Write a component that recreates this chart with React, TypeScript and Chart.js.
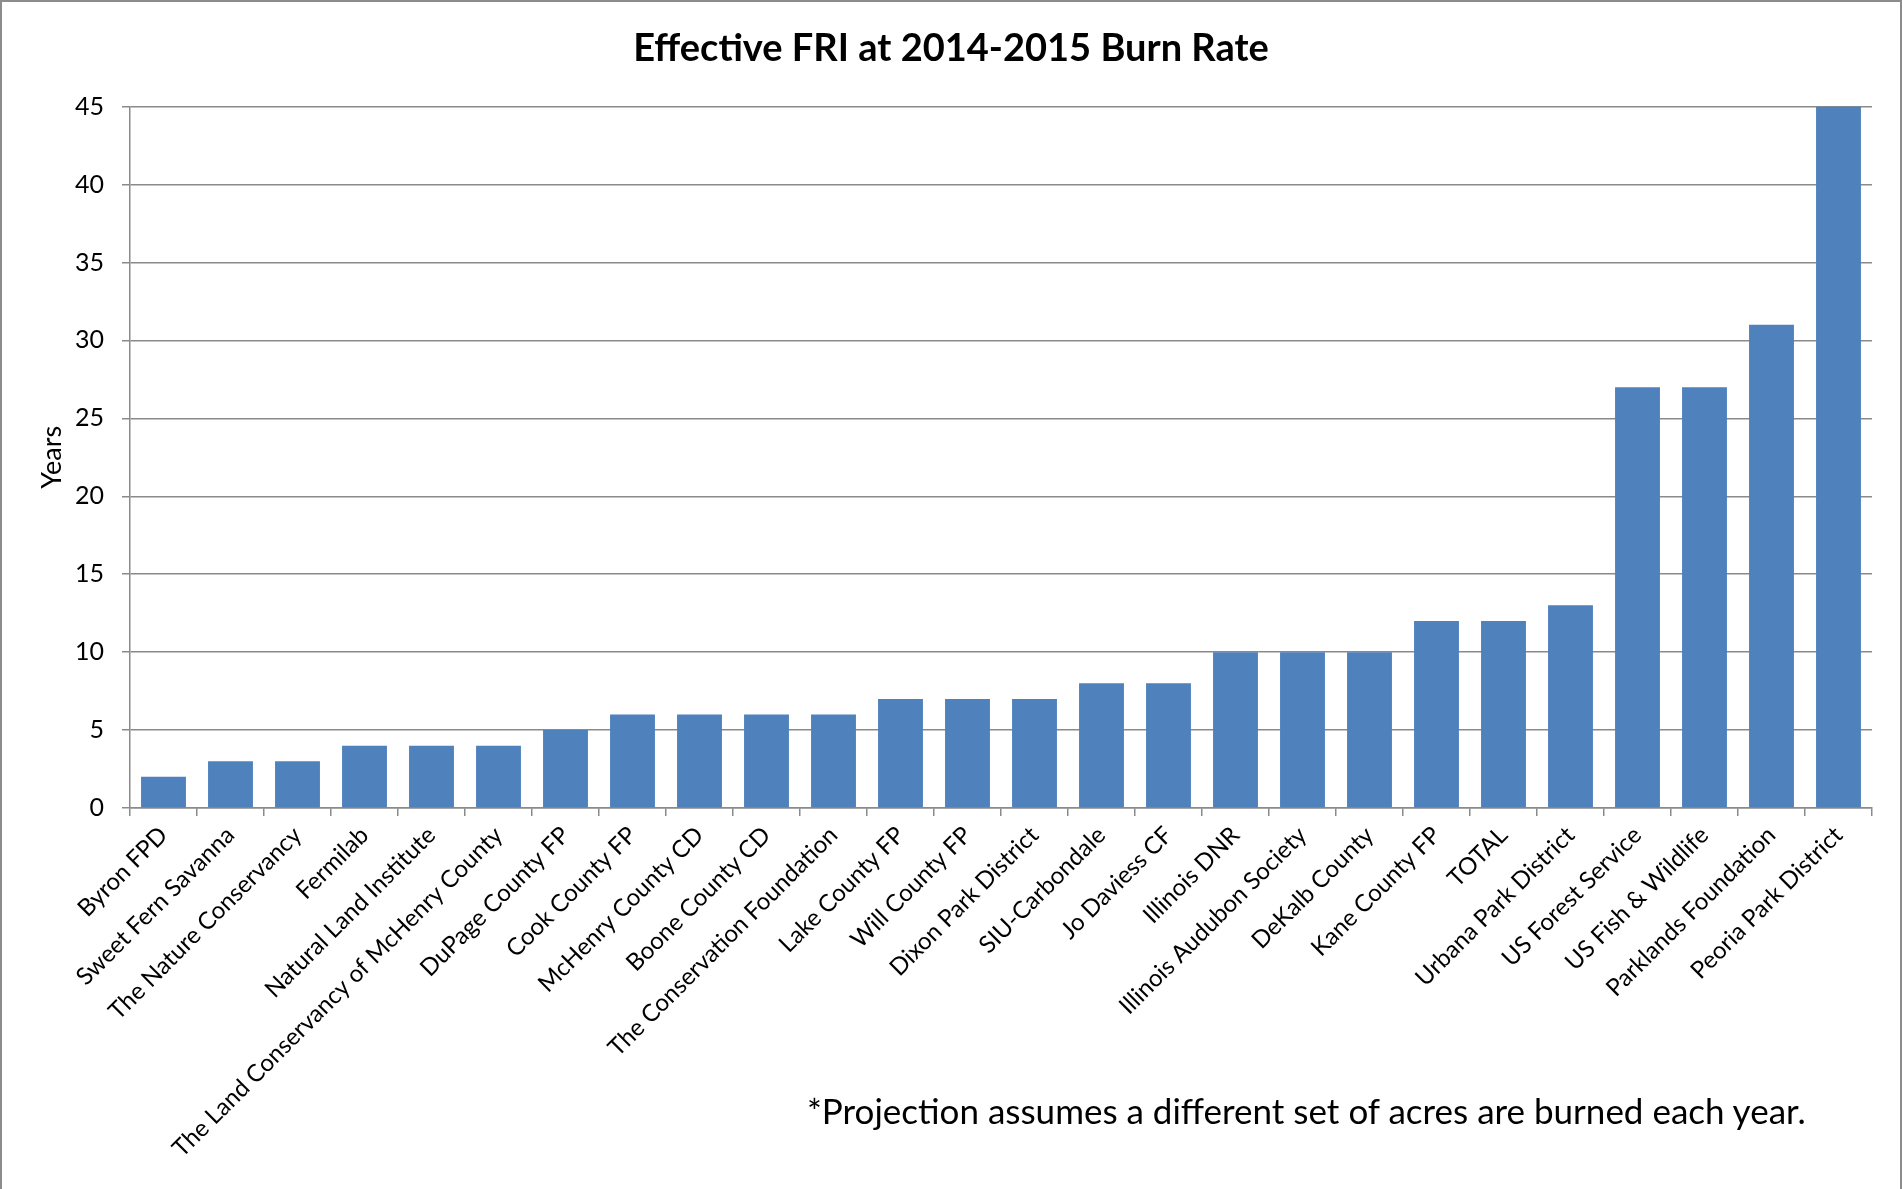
import React, { useEffect, useRef } from "react";
import { Chart, registerables } from "chart.js";

Chart.register(...registerables);

const categories = [
  "Byron FPD",
  "Sweet Fern Savanna",
  "The Nature Conservancy",
  "Fermilab",
  "Natural Land Institute",
  "The Land Conservancy of McHenry County",
  "DuPage County FP",
  "Cook County FP",
  "McHenry County CD",
  "Boone County CD",
  "The Conservation Foundation",
  "Lake County FP",
  "Will County FP",
  "Dixon Park District",
  "SIU-Carbondale",
  "Jo Daviess CF",
  "Illinois DNR",
  "Illinois Audubon Society",
  "DeKalb County",
  "Kane County FP",
  "TOTAL",
  "Urbana Park District",
  "US Forest Service",
  "US Fish & Wildlife",
  "Parklands Foundation",
  "Peoria Park District",
];

const years = [2, 3, 3, 4, 4, 4, 5, 6, 6, 6, 6, 7, 7, 7, 8, 8, 10, 10, 10, 12, 12, 13, 27, 27, 31, 45];

const titleText = "Effective FRI at 2014-2015 Burn Rate";
const yAxisTitle = "Years";
const footnote = "*Projection assumes a different set of acres are burned each year.";

const FONT = "Lato, 'Open Sans', sans-serif";
const GRID = "#8a8a8a";

export default function App() {
  const ref = useRef<HTMLCanvasElement>(null);

  useEffect(() => {
    document.body.style.margin = "0";
    const chart = new Chart(ref.current as HTMLCanvasElement, {
      type: "bar",
      data: {
        labels: categories,
        datasets: [
          {
            data: years,
            backgroundColor: "#4F81BD",
            borderWidth: 0,
            barPercentage: 1,
            categoryPercentage: 0.67,
            yAxisID: "y",
          },
        ],
      },
      options: {
        responsive: false,
        animation: false,
        devicePixelRatio: 1,
        layout: { padding: { left: 0, right: 0, top: 0, bottom: 0 } },
        plugins: {
          legend: { display: false },
          tooltip: { enabled: false },
          title: {
            display: true,
            text: titleText,
            color: "#000",
            font: { family: FONT, size: 38, weight: "bold" },
            padding: { top: 26, bottom: 35 },
          },
        },
        scales: {
          x: {
            grid: {
              drawOnChartArea: false,
              drawTicks: true,
              tickLength: 8,
              color: GRID,
              lineWidth: 1.5,
              offset: true,
            },
            border: { color: GRID, width: 1.5 },
            ticks: {
              autoSkip: false,
              minRotation: 45,
              maxRotation: 45,
              color: "#000",
              padding: 5,
              font: { family: FONT, size: 24 },
            },
            afterFit: (s: any) => {
              s.height = 381;
            },
          },
          y: {
            min: 0,
            max: 45,
            ticks: {
              stepSize: 5,
              padding: 18,
              color: "#000",
              font: { family: FONT, size: 25 },
            },
            grid: { color: GRID, lineWidth: 1.5, tickLength: 8 },
            border: { color: GRID, width: 1.5 },
            title: {
              display: true,
              text: yAxisTitle,
              color: "#000",
              font: { family: FONT, size: 27 },
              padding: { top: 36, bottom: 0 },
            },
            afterFit: (s: any) => {
              s.width = 130;
            },
          },
          yRight: {
            type: "linear",
            position: "right",
            display: true,
            ticks: { display: false },
            grid: { display: false, drawTicks: false },
            border: { display: false },
            afterFit: (s: any) => {
              s.width = 30;
            },
          },
        },
      },
    });
    return () => chart.destroy();
  }, []);

  return (
    <div
      style={{
        position: "absolute",
        left: 0,
        top: 0,
        width: 1902,
        height: 1189,
        background: "#fff",
        overflow: "hidden",
      }}
    >
      <canvas ref={ref} width={1902} height={1189} style={{ display: "block" }} />
      <div
        style={{
          position: "absolute",
          left: 0,
          top: 0,
          width: 1902,
          height: 1189,
          boxSizing: "border-box",
          borderTop: "2px solid #8c8c8c",
          borderLeft: "2px solid #8c8c8c",
          borderRight: "2px solid #8c8c8c",
          pointerEvents: "none",
        }}
      />
      <div
        style={{
          position: "absolute",
          left: 807,
          top: 1090,
          fontFamily: FONT,
          fontSize: 35,
          lineHeight: "40px",
          color: "#000",
          whiteSpace: "nowrap",
        }}
      >
        {footnote}
      </div>
    </div>
  );
}
